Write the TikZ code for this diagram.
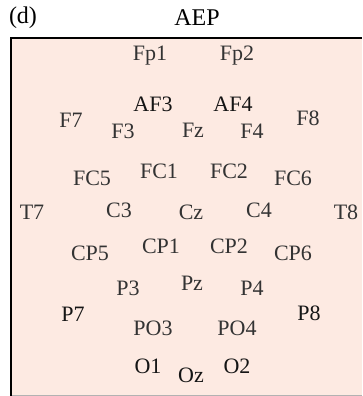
\documentclass[tikz,border=0pt]{standalone}
\usepackage{fontspec}
\setmainfont{Liberation Serif}
\definecolor{panelfill}{HTML}{FDEAE2}
\definecolor{labelgray}{HTML}{333333}
\definecolor{labeldark}{HTML}{151515}
\begin{document}
\begin{tikzpicture}[x=1pt,y=-1pt,
  chan/.style={inner sep=0pt, text=labelgray, font=\fontsize{22}{22}\selectfont},
  chandark/.style={chan, text=labeldark},
  caption/.style={inner sep=0pt, text=black, font=\fontsize{24}{24}\selectfont}]
\useasboundingbox (0,0) rectangle (362,396);
% panel background with its frame on the left and top
\fill[panelfill] (11,38) rectangle (362,396);
\draw[gray!60, line width=1pt] (11,395.5) -- (362,395.5);
\draw[black, line width=2pt] (11,396) -- (11,38) -- (362,38);
% titles
\node[caption] (panel) at (23,18) {(d)};
\node[caption] (title) at (197,18) {AEP};
% electrode labels
\node[chan] (Fp1) at (150,56) {Fp1};
\node[chan] (Fp2) at (237,56) {Fp2};
\node[chandark] (AF3) at (153,104) {AF3};
\node[chandark] (AF4) at (233,104) {AF4};
\node[chan] (F7) at (71,120) {F7};
\node[chan] (F8) at (308,118) {F8};
\node[chan] (F3) at (123,131) {F3};
\node[chan] (Fz) at (193,130) {Fz};
\node[chan] (F4) at (252,131) {F4};
\node[chan] (FC5) at (92,178) {FC5};
\node[chan] (FC1) at (159,171) {FC1};
\node[chan] (FC2) at (229,171) {FC2};
\node[chan] (FC6) at (293,178) {FC6};
\node[chan] (T7) at (32,212) {T7};
\node[chan] (C3) at (119,210) {C3};
\node[chan] (Cz) at (191,212) {Cz};
\node[chan] (C4) at (259,210) {C4};
\node[chan] (T8) at (346,212) {T8};
\node[chan] (CP5) at (90,253) {CP5};
\node[chan] (CP1) at (161,246) {CP1};
\node[chan] (CP2) at (229,246) {CP2};
\node[chan] (CP6) at (293,253) {CP6};
\node[chan] (P3) at (128,288) {P3};
\node[chan] (Pz) at (192,283) {Pz};
\node[chan] (P4) at (252,288) {P4};
\node[chandark] (P7) at (73,314) {P7};
\node[chandark] (P8) at (309,313) {P8};
\node[chan] (PO3) at (153,328) {PO3};
\node[chan] (PO4) at (237,328) {PO4};
\node[chandark] (O1) at (148,366) {O1};
\node[chandark] (Oz) at (191,375) {Oz};
\node[chandark] (O2) at (237,366) {O2};
\end{tikzpicture}
\end{document}
